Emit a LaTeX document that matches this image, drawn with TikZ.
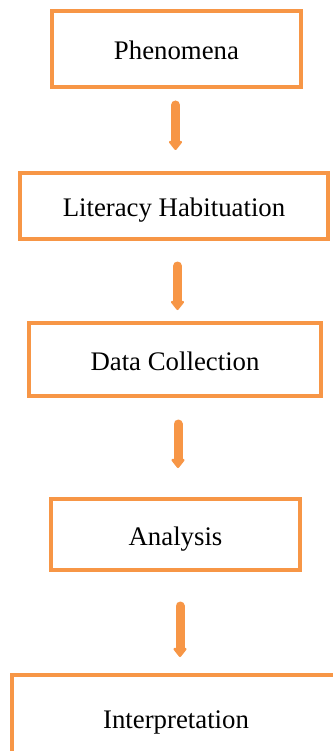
\documentclass[tikz,border=0pt]{standalone}
\usepackage{fontspec}
\setmainfont{Liberation Serif}
\usepackage{xcolor}
\usetikzlibrary{arrows.meta}

\definecolor{flowOrange}{RGB}{247,150,70}

\begin{document}
\begin{tikzpicture}[x=1pt, y=-1pt]
\def\boxcolor{flowOrange}
\def\boxfontsize{\fontsize{26.8}{32}\selectfont}
\tikzset{
  flowbox/.style={draw=\boxcolor, line width=4pt, rectangle, inner sep=0pt, text height=21pt, text depth=0pt, font=\boxfontsize},
  flowarrow/.style={draw=\boxcolor, line width=9pt, line cap=round, -{Triangle[width=15pt, length=10pt, round]}}
}
\useasboundingbox (0,0) rectangle (332,751);

% BOXES
\node[flowbox, minimum width=249pt, minimum height=76pt] (phen) at (176.5, 49) {Phenomena};
\node[flowbox, minimum width=308pt, minimum height=66pt] (lit) at (174, 206) {Literacy Habituation};
\node[flowbox, minimum width=292pt, minimum height=73pt] (data) at (175, 359.5) {Data Collection};
\node[flowbox, minimum width=249pt, minimum height=71pt] (anal) at (175.5, 534.5) {Analysis};
\node[flowbox, minimum width=328pt, minimum height=85pt] (interp) at (176, 717.5) {Interpretation};

% ARROWS
\draw[flowarrow, shorten <=16pt, shorten >=21pt] ([xshift=-1pt]phen.south) -- ([xshift=-1pt]phen.south |- lit.north);
\draw[flowarrow, shorten <=25pt, shorten >=11pt] ([xshift=3.5pt]lit.south) -- ([xshift=3.5pt]lit.south |- data.north);
\draw[flowarrow, shorten <=26pt, shorten >=29pt] ([xshift=3pt]data.south) -- ([xshift=3pt]data.south |- anal.north);
\draw[flowarrow, shorten <=34pt, shorten >=16pt] ([xshift=4.5pt]anal.south) -- ([xshift=4.5pt]anal.south |- interp.north);
\end{tikzpicture}
\end{document}
